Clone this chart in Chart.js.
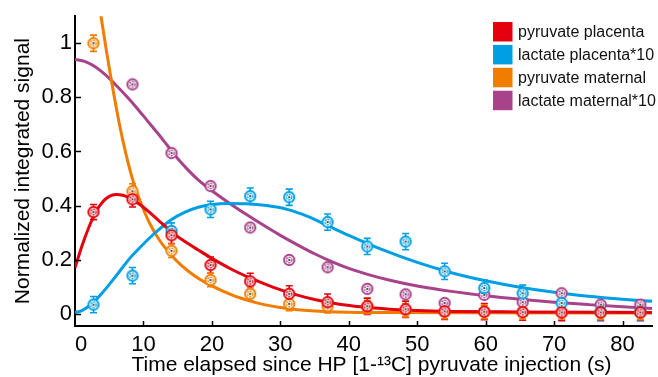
<!DOCTYPE html>
<html><head><meta charset="utf-8">
<script src="https://cdn.jsdelivr.net/npm/chart.js@4.4.0/dist/chart.umd.min.js"></script>
<style>html,body{margin:0;padding:0;background:#fff;}#wrap{width:658px;height:377px;}</style>
</head><body><div id="wrap"><canvas id="c" width="658" height="377"></canvas></div>
<script>
// ---- data ----
const seriesLabels = ['pyruvate placenta', 'lactate placenta*10', 'pyruvate maternal', 'lactate maternal*10'];
const seriesColors = ['#e3000f', '#009fe3', '#f07d00', '#a8428a'];

const times = [2.7, 8.4, 14.1, 19.8, 25.6, 31.3, 36.9, 42.7, 48.3, 54.0, 59.8, 65.4, 71.1, 76.8, 82.6];
const pyrPlacenta = [0.376, 0.423, 0.290, 0.180, 0.120, 0.074, 0.043, 0.028, 0.017, 0.009, 0.008, 0.006, 0.005, 0.005, 0.005];
const pyrPlacentaErr = [0.028, 0.028, 0.03, 0.03, 0.03, 0.03, 0.03, 0.03, 0.03, 0.03, 0.03, 0.03, 0.03, 0.03, 0.03];
const lacPlacenta = [0.034, 0.141, 0.306, 0.386, 0.435, 0.431, 0.339, 0.249, 0.267, 0.157, 0.095, 0.076, 0.040, 0.007, 0.007];
const lacPlacentaErr = [0.03, 0.03, 0.03, 0.03, 0.03, 0.03, 0.03, 0.03, 0.03, 0.03, 0.03, 0.03, 0.03, 0.03, 0.03];
const pyrMaternal = [1.000, 0.453, 0.233, 0.125, 0.074, 0.037, 0.028, 0.025, 0.013, 0.007, 0.007, 0.006, 0.006, 0.005, 0.005];
const pyrMaternalErr = [0.03, 0.028, 0.025, 0.025, 0.025, 0.025, 0.025, 0.025, 0.025, 0.025, 0.025, 0.025, 0.025, 0.025, 0.025];
const lacMaternal = [null, 0.848, 0.594, 0.472, 0.319, 0.199, 0.172, 0.092, 0.072, 0.040, 0.070, 0.043, 0.076, 0.034, 0.034];
const lacMaternalErr = [0, 0, 0, 0, 0, 0, 0, 0, 0, 0, 0, 0, 0, 0, 0];

// fitted curves
const fitPyrPlacT = [0, 1, 2, 3, 4, 5, 6, 7, 8, 9, 10, 12, 14, 16, 18, 20, 23, 26, 29, 32, 35, 38, 42, 46, 50, 55, 65, 84.3];
const fitPyrPlacV = [0.17, 0.25, 0.318, 0.375, 0.412, 0.434, 0.441, 0.438, 0.428, 0.412, 0.394, 0.35, 0.305, 0.268, 0.236, 0.205, 0.163, 0.128, 0.098, 0.073, 0.053, 0.038, 0.025, 0.017, 0.012, 0.009, 0.007, 0.005];
const fitLacPlacT = [0, 1, 2, 3, 4, 5, 6, 7, 8, 9, 10, 11, 12, 14, 16, 18, 20, 22.5, 25, 28, 31, 34, 37, 40, 45, 50, 55, 60, 65, 70, 75, 80, 84.3];
const fitLacPlacV = [0.005, 0.012, 0.028, 0.05, 0.078, 0.108, 0.14, 0.173, 0.205, 0.232, 0.258, 0.283, 0.306, 0.347, 0.375, 0.394, 0.404, 0.408, 0.407, 0.4, 0.386, 0.36, 0.325, 0.29, 0.236, 0.19, 0.152, 0.122, 0.098, 0.08, 0.065, 0.054, 0.046];
const fitPyrMatT = [3.0, 3.8, 4.6, 5.4, 6.5, 7.5, 8.5, 9.7, 11.0, 12.4, 13.8, 15.5, 17.5, 20.0, 22.9, 25.5, 27.8, 30.0, 32.5, 37.0, 45.0, 60.0, 84.3];
const fitPyrMatV = [1.235, 1.10, 0.97, 0.85, 0.70, 0.585, 0.49, 0.405, 0.33, 0.27, 0.225, 0.18, 0.14, 0.103, 0.07, 0.048, 0.033, 0.023, 0.015, 0.008, 0.005, 0.004, 0.003];
const fitLacMatT = [0, 1.5, 3, 4.5, 6, 7.5, 9, 10.5, 12, 13.5, 15, 16.5, 18, 20, 22.5, 25, 27.5, 30, 32.5, 35, 37.5, 40, 43, 46, 50, 55, 60, 65, 70, 75, 80, 84.3];
const fitLacMatV = [0.94, 0.932, 0.912, 0.882, 0.845, 0.805, 0.762, 0.716, 0.67, 0.622, 0.574, 0.532, 0.495, 0.455, 0.41, 0.368, 0.328, 0.29, 0.255, 0.222, 0.193, 0.168, 0.144, 0.124, 0.103, 0.083, 0.067, 0.054, 0.043, 0.034, 0.026, 0.02];

const xTickVals = [0, 10, 20, 30, 40, 50, 60, 70, 80, 84.3];
const xTickLabels = ['0', '10', '20', '30', '40', '50', '60', '70', '80', ''];
const yTickVals = [0, 0.2, 0.4, 0.6, 0.8, 1];
const yTickLabels = ['0', '0.2', '0.4', '0.6', '0.8', '1'];
const xTitle = 'Time elapsed since HP [1-\u00B9\u00B3C] pyruvate injection (s)';
const yTitle = 'Normalized integrated signal';

// ---- build ----
const FONT = 'Liberation Sans, Arial, Helvetica, sans-serif';
function pts(t, v) { const o = []; for (let i = 0; i < t.length; i++) if (v[i] !== null) o.push({x: t[i], y: v[i]}); return o; }
function marker(color) {
  const c = document.createElement('canvas'); c.width = 14; c.height = 14;
  const g = c.getContext('2d');
  g.beginPath(); g.arc(7, 7, 5.2, 0, Math.PI * 2); g.fillStyle = '#fff'; g.fill();
  g.lineWidth = 1.9; g.strokeStyle = color; g.stroke();
  g.beginPath(); g.setLineDash([2, 1]); g.arc(7, 7, 2.7, 0, Math.PI * 2); g.lineWidth = 1.4; g.stroke();
  g.setLineDash([]);
  g.beginPath(); g.arc(7, 7, 1, 0, Math.PI * 2); g.fillStyle = '#222'; g.fill();
  return c;
}
const fits = [[fitPyrPlacT, fitPyrPlacV], [fitLacPlacT, fitLacPlacV], [fitPyrMatT, fitPyrMatV], [fitLacMatT, fitLacMatV]];
const obs = [[pyrPlacenta, pyrPlacentaErr], [lacPlacenta, lacPlacentaErr], [pyrMaternal, pyrMaternalErr], [lacMaternal, lacMaternalErr]];
const datasets = [];
fits.forEach((f, i) => datasets.push({
  label: seriesLabels[i] + ' fit', data: pts(f[0], f[1]), showLine: true, borderColor: seriesColors[i],
  borderWidth: 3, pointRadius: 0, cubicInterpolationMode: 'monotone', order: 2, fill: false
}));
obs.forEach((o, i) => datasets.push({
  label: seriesLabels[i], data: pts(times, o[0]), showLine: false, pointStyle: marker(seriesColors[i]),
  pointRadius: 5, borderColor: seriesColors[i], backgroundColor: '#fff', order: 1,
  errors: o[1], values: o[0], colorIdx: i
}));

let errDrawn = false;
const decor = {
  id: 'decor',
  beforeDraw() { errDrawn = false; },
  beforeDatasetDraw(chart, args) {
    const ds = chart.data.datasets[args.index];
    if (errDrawn || !ds.errors) return;
    errDrawn = true;
    const {ctx, chartArea: a, scales: {x, y}} = chart;
    ctx.save();
    ctx.beginPath(); ctx.rect(a.left, a.top, a.right - a.left, a.bottom - a.top); ctx.clip();
    chart.data.datasets.forEach(d => {
      if (!d.errors) return;
      ctx.strokeStyle = seriesColors[d.colorIdx]; ctx.lineWidth = 1.6;
      times.forEach((t, k) => {
        const v = d.values[k], e = d.errors[k];
        if (v === null || !e) return;
        const px = x.getPixelForValue(t), y1 = y.getPixelForValue(v - e), y2 = y.getPixelForValue(v + e);
        ctx.beginPath();
        ctx.moveTo(px, y1); ctx.lineTo(px, y2);
        ctx.moveTo(px - 3.5, y1); ctx.lineTo(px + 3.5, y1);
        ctx.moveTo(px - 3.5, y2); ctx.lineTo(px + 3.5, y2);
        ctx.stroke();
      });
    });
    ctx.restore();
  },
  afterDraw(chart) {
    const {ctx, chartArea: a, scales: {x, y}} = chart;
    ctx.save();
    ctx.strokeStyle = '#000'; ctx.lineWidth = 1.5;
    xTickVals.forEach((v, i) => {
      if (xTickLabels[i] === '' || v === 0) return;
      const px = Math.round(x.getPixelForValue(v)) + 0.5;
      ctx.beginPath(); ctx.moveTo(px, a.bottom); ctx.lineTo(px, a.bottom - 5); ctx.stroke();
    });
    yTickVals.forEach(v => {
      const py = Math.round(y.getPixelForValue(v)) + 0.5;
      ctx.beginPath(); ctx.moveTo(a.left, py); ctx.lineTo(a.left + 6, py); ctx.stroke();
    });
    // x-axis title
    ctx.fillStyle = '#000'; ctx.font = '21px ' + FONT; ctx.textAlign = 'center'; ctx.textBaseline = 'middle';
    ctx.fillText(xTitle, (a.left + a.right) / 2 + 8, 365);
    // legend
    const lx = 493, ly = 22, step = 22.9;
    ctx.font = '16px ' + FONT; ctx.textBaseline = 'middle'; ctx.textAlign = 'left';
    seriesLabels.forEach((lab, i) => {
      ctx.fillStyle = seriesColors[i];
      ctx.fillRect(lx, ly + i * step, 19.5, 19.5);
      ctx.fillStyle = '#111';
      ctx.fillText(lab, lx + 25, ly + i * step + 10.5);
    });
    ctx.restore();
  }
};

new Chart(document.getElementById('c'), {
  type: 'scatter',
  data: {datasets},
  options: {
    responsive: false, animation: false, devicePixelRatio: 1, events: [],
    layout: {padding: {top: 14, left: 0, right: 0, bottom: 0}},
    plugins: {legend: {display: false}, tooltip: {enabled: false}},
    scales: {
      x: {
        type: 'linear', position: 'bottom', min: 0, max: 84.3,
        afterBuildTicks: s => { s.ticks = xTickVals.map(v => ({value: v})); },
        afterFit: s => { s.height = 51; },
        ticks: {callback: (v, i) => xTickLabels[i], align: 'inner', padding: 6, color: '#000',
          font: {family: FONT, size: 22}, maxRotation: 0, autoSkip: false},
        grid: {display: false, drawTicks: false},
        border: {display: true, color: '#000', width: 2},
        title: {display: false}
      },
      y: {
        type: 'linear', position: 'left', min: -0.045, max: 1.1,
        afterBuildTicks: s => { s.ticks = yTickVals.map(v => ({value: v})); },
        afterFit: s => { s.width = 75; },
        ticks: {callback: (v, i) => yTickLabels[i], padding: 3, color: '#000', font: {family: FONT, size: 22}},
        grid: {display: false, drawTicks: false},
        border: {display: true, color: '#000', width: 2},
        title: {display: true, text: yTitle, color: '#000', font: {family: FONT, size: 21}, padding: {top: 11, bottom: 0}}
      }
    }
  },
  plugins: [decor]
});
</script>
</body></html>
